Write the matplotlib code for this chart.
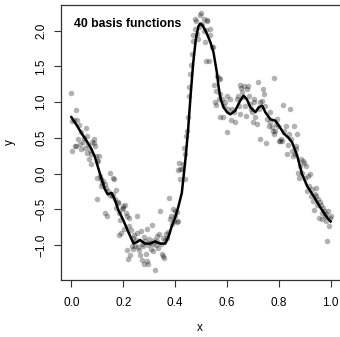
import numpy as np
import matplotlib
matplotlib.use("Agg")
import matplotlib.pyplot as plt

plt.rcParams["font.family"] = ["Liberation Sans", "DejaVu Sans"]

x_pts = [0.000, 0.002, 0.009, 0.019, 0.022, 0.028, 0.004, 0.013, 0.017, 0.026, 0.032, 0.036,
         0.039, 0.045, 0.048, 0.052, 0.058, 0.061, 0.059, 0.065, 0.068, 0.072, 0.074, 0.077,
         0.080, 0.086, 0.088, 0.090, 0.094, 0.097, 0.098, 0.099,
         0.103, 0.107, 0.110, 0.114, 0.116, 0.120, 0.123, 0.129, 0.129, 0.135, 0.139, 0.142,
         0.148, 0.150, 0.155, 0.159, 0.161, 0.164, 0.168, 0.172, 0.174, 0.178, 0.181, 0.185,
         0.187, 0.185, 0.192, 0.194, 0.198, 0.200,
         0.203, 0.206, 0.209, 0.213, 0.214, 0.217, 0.221, 0.224, 0.226, 0.229, 0.232, 0.236,
         0.239, 0.242, 0.245, 0.248, 0.252, 0.255, 0.258, 0.262, 0.265, 0.267, 0.271, 0.274,
         0.277, 0.280, 0.282, 0.284, 0.287, 0.290, 0.293, 0.296, 0.300,
         0.303, 0.306, 0.297, 0.310, 0.313, 0.316, 0.320, 0.323, 0.326, 0.329, 0.332, 0.335,
         0.338, 0.342, 0.345, 0.348, 0.352, 0.355, 0.358, 0.361, 0.365, 0.368, 0.372, 0.378,
         0.381, 0.385, 0.388, 0.392, 0.394, 0.398,
         0.400, 0.406, 0.407, 0.413, 0.413, 0.417, 0.419, 0.420, 0.425, 0.430, 0.435, 0.439,
         0.440, 0.443, 0.445, 0.448, 0.452, 0.455, 0.458, 0.460, 0.465, 0.468, 0.471, 0.475,
         0.477, 0.480, 0.484, 0.490, 0.494, 0.497, 0.499,
         0.503, 0.510, 0.512, 0.516, 0.520, 0.523, 0.525, 0.533, 0.535, 0.529, 0.520, 0.542,
         0.548, 0.561, 0.568, 0.574, 0.551, 0.559, 0.555, 0.559, 0.568, 0.574, 0.581, 0.574,
         0.585, 0.590, 0.594, 0.600,
         0.606, 0.613, 0.615, 0.619, 0.626, 0.632, 0.600, 0.639, 0.641, 0.645, 0.649, 0.652,
         0.654, 0.658, 0.662, 0.667, 0.671, 0.675, 0.677, 0.680, 0.684, 0.688, 0.693, 0.697,
         0.701, 0.703,
         0.706, 0.710, 0.716, 0.719, 0.723, 0.726, 0.729, 0.735, 0.739, 0.742, 0.748, 0.752,
         0.755, 0.761, 0.765, 0.768, 0.774, 0.778, 0.781, 0.783, 0.787, 0.791, 0.794, 0.796,
         0.800, 0.804, 0.809, 0.813, 0.817, 0.819, 0.826, 0.830, 0.835, 0.839, 0.845, 0.848,
         0.852, 0.855, 0.858, 0.861, 0.865, 0.868, 0.871, 0.874, 0.877, 0.881, 0.884, 0.890,
         0.894, 0.897,
         0.900, 0.905, 0.910, 0.914, 0.918, 0.922, 0.925, 0.928, 0.932, 0.935, 0.938, 0.942,
         0.945, 0.948, 0.952, 0.955, 0.958, 0.961, 0.965, 0.968, 0.971, 0.974, 0.978, 0.981,
         0.984, 0.987, 0.990, 0.993, 0.996, 1.000]
y_pts = [1.13, 0.74, 0.75, 0.89, 0.75, 0.68, 0.31, 0.39, 0.38, 0.48, 0.41, 0.58,
         0.34, 0.44, 0.50, 0.36, 0.64, 0.52, 0.29, 0.40, 0.21, 0.33, 0.27, 0.14,
         0.44, 0.43, 0.49, 0.38, 0.24, -0.36, 0.17, -0.06,
         0.18, 0.25, -0.04, -0.17, -0.08, -0.13, -0.11, -0.15, -0.55, -0.20, -0.59, -0.24,
         0.01, -0.30, -0.32, -0.06, -0.29, -0.08, -0.36, -0.48, -0.23, -0.40, -0.41, -0.55,
         -0.65, -0.86, -0.83, -0.50, -0.45, -0.48,
         -0.78, -0.44, -0.55, -0.60, -1.07, -1.19, -0.62, -0.74, -1.14, -0.79, -1.02, -0.90,
         -1.05, -0.86, -1.02, -0.93, -0.83, -0.60, -1.03, -1.07, -1.14, -0.81, -1.21, -0.98,
         -1.02, -1.27, -0.89, -0.95, -1.12, -1.22, -0.78, -1.00, -0.92,
         -0.97, -1.05, -1.27, -0.72, -0.98, -1.09, -0.93, -1.35, -1.00, -0.88, -0.95, -1.04,
         -0.84, -0.52, -0.98, -1.12, -0.90, -1.16, -1.18, -0.93, -0.85, -0.90, -0.82, -0.34,
         -0.64, -0.60, -0.70, -0.49, -0.66, -0.53,
         -0.59, -0.54, -0.68, -0.66, 0.05, 0.15, -0.08, 0.06, 0.07, 0.13, 0.36, -0.08,
         0.27, 0.52, 0.60, 0.79, 1.09, 1.21, 1.40, 1.52, 1.68, 1.85, 1.94, 2.03,
         2.17, 2.13, 1.96, 1.89, 2.05, 2.22, 2.25,
         2.10, 2.17, 1.99, 1.84, 2.01, 2.13, 2.15, 2.02, 1.94, 1.57, 1.57, 1.77,
         1.77, 1.37, 1.34, 1.33, 1.24, 1.16, 1.00, 0.96, 1.05, 1.12, 1.05, 0.79,
         0.79, 0.95, 1.00, 1.09,
         0.90, 1.04, 0.75, 0.90, 0.86, 0.72, 0.58, 1.04, 1.09, 0.95, 0.83, 1.24,
         1.20, 1.14, 1.07, 1.23, 0.95, 0.81, 1.19, 1.23, 1.09, 0.98, 0.90, 0.86,
         0.72, 1.05,
         1.00, 0.79, 0.69, 1.28, 0.90, 1.00, 0.48, 1.02, 1.19, 1.12, 0.95, 0.43,
         0.77, 0.67, 0.86, 0.72, 0.65, 0.60, 1.34, 0.55, 0.60, 0.69, 0.76, 0.67,
         0.46, 0.46, 0.48, 0.46, 0.96, 0.60, 0.67, 0.27, 0.40, 0.55, 0.90, 0.48,
         0.32, 0.25, 0.67, 0.27, 0.39, 0.34, 0.55, 0.01, -0.06, 0.11, 0.21, 0.01,
         0.18, 0.15,
         -0.06, 0.10, -0.25, -0.03, -0.18, -0.01, -0.32, -0.22, -0.39, -0.51, -0.28, -0.20,
         -0.32, -0.44, -0.36, -0.62, -0.40, -0.44, -0.55, -0.64, -0.48, -0.53, -0.60, -0.57,
         -0.66, -0.94, -0.53, -0.74, -0.62, -0.60]

# fitted curve
fit_x = [0.00, 0.02, 0.04, 0.06, 0.075, 0.09, 0.10, 0.115, 0.128, 0.14, 0.155, 0.168,
         0.181, 0.20, 0.22, 0.24, 0.252, 0.265, 0.284, 0.303, 0.323, 0.342, 0.362, 0.375,
         0.387, 0.40, 0.413, 0.426, 0.44, 0.45, 0.46, 0.47, 0.48, 0.49, 0.497, 0.505,
         0.516, 0.527, 0.537, 0.548, 0.561, 0.568, 0.576, 0.587, 0.60, 0.613, 0.632, 0.651,
         0.664, 0.677, 0.69, 0.71, 0.723, 0.736, 0.748, 0.768, 0.787, 0.806, 0.819, 0.835,
         0.851, 0.871, 0.89, 0.91, 0.935, 0.961, 0.987, 1.0]
fit_y = [0.79, 0.68, 0.56, 0.45, 0.36, 0.24, 0.12, -0.06, -0.21, -0.29, -0.27, -0.37,
         -0.51, -0.65, -0.82, -0.98, -0.96, -0.93, -0.98, -0.98, -0.95, -0.98, -0.98, -0.88,
         -0.74, -0.62, -0.46, -0.27, 0.20, 0.60, 1.10, 1.55, 1.88, 2.06, 2.10, 2.08,
         2.01, 1.92, 1.83, 1.70, 1.42, 1.21, 1.04, 0.93, 0.86, 0.83, 0.88, 1.02,
         1.09, 1.04, 0.93, 0.86, 0.93, 0.95, 0.86, 0.76, 0.74, 0.64, 0.56, 0.51,
         0.44, 0.25, -0.01, -0.18, -0.32, -0.48, -0.62, -0.67]

x_ticks = [0.0, 0.2, 0.4, 0.6, 0.8, 1.0]
y_ticks = [-1.0, -0.5, 0.0, 0.5, 1.0, 1.5, 2.0]

fig = plt.figure(figsize=(3.4, 3.37), dpi=100)
ax = fig.add_axes([61 / 340, 57 / 337, 280 / 340, 275 / 337])

ax.scatter(x_pts, y_pts, s=16, color="black", alpha=0.3, linewidths=0)
ax.plot(fit_x, fit_y, color="black", linewidth=1.8)

ax.set_xlim(-0.04, 1.04)
ax.set_ylim(-1.49, 2.36)
ax.set_xticks(x_ticks)
ax.set_xticklabels(["%.1f" % v for v in x_ticks])
ax.set_yticks(y_ticks)
ax.set_yticklabels([("%.1f" % v).replace("-", "\u2212") for v in y_ticks],
                   rotation=90, va="center")
ax.tick_params(length=5, width=0.8, labelsize=8.5, color="#333333")
ax.tick_params(axis="x", pad=7)
ax.tick_params(axis="y", pad=5)
for s in ax.spines.values():
    s.set_linewidth(0.9)
    s.set_color("#333333")

ax.text(0.047, 0.93, "40 basis functions", transform=ax.transAxes,
        fontsize=8.8, fontweight="bold", va="center", ha="left")

fig.text(200 / 340, 1 - 328 / 337, "x", fontsize=8.5, ha="center", va="center")
fig.text(10 / 340, 1 - 142 / 337, "y", fontsize=8.5, ha="center", va="center", rotation=90)

fig.savefig("out.png", dpi=100)
